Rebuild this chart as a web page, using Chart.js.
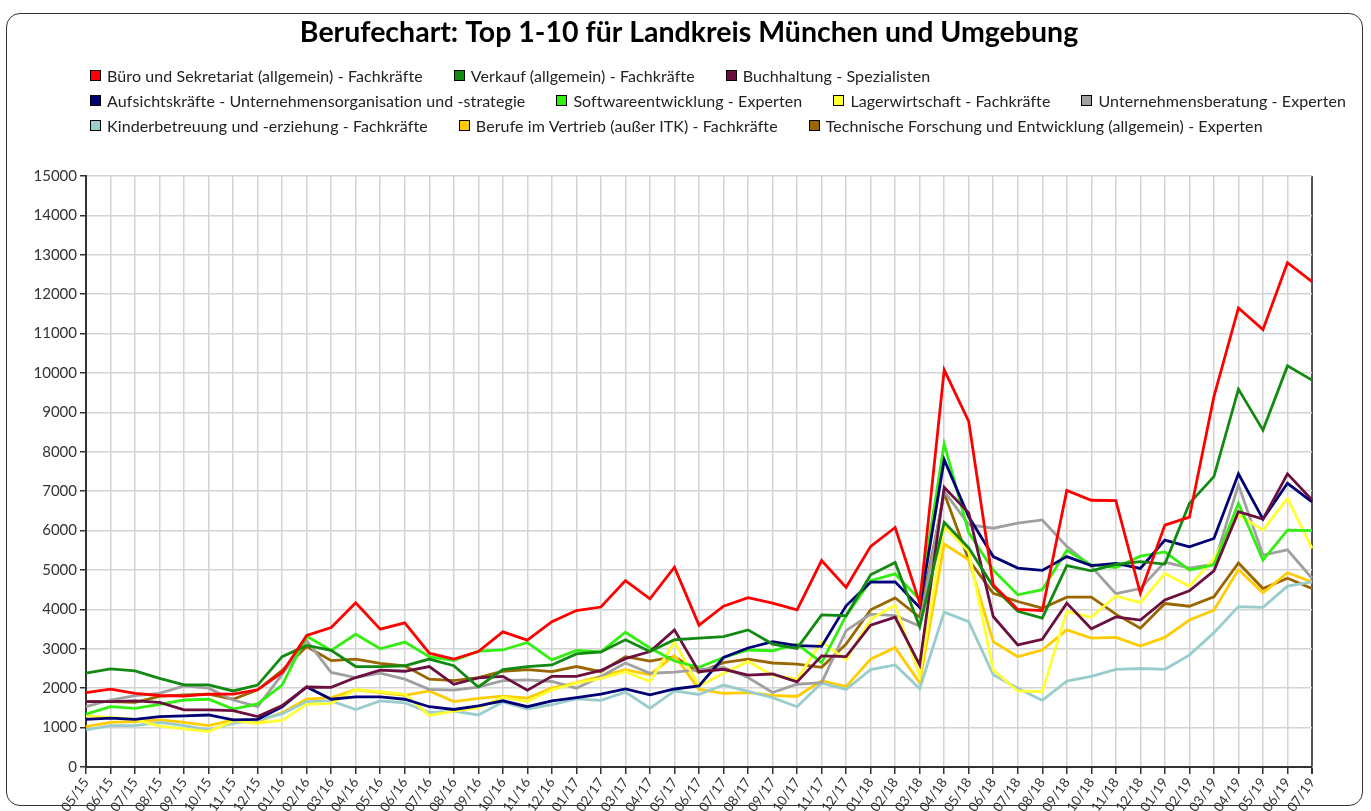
<!DOCTYPE html>
<html><head><meta charset="utf-8">
<script src="https://cdn.jsdelivr.net/npm/chart.js@4"></script>
<style>
html,body{margin:0;padding:0;background:#fff;overflow:hidden;}
#wrap{position:absolute;left:0;top:0;width:1371px;height:811px;}
#frame{position:absolute;left:6px;top:13px;width:1357px;height:793px;border:1.5px solid #333;border-radius:14px;box-sizing:border-box;pointer-events:none;}
#legend{position:absolute;left:90px;top:63px;width:1280px;font:16px Lato, sans-serif;letter-spacing:0.1px;color:#222;display:flex;flex-wrap:wrap;column-gap:31px;}
.li{display:flex;align-items:center;height:25px;white-space:nowrap;}
.bx{width:9px;height:9px;border:1px solid #000;margin-right:6px;flex:none;}
</style></head>
<body>
<div id="wrap"><canvas id="c"></canvas></div>
<div id="frame"></div>
<div id="legend"></div>
<script>
const TITLE = 'Berufechart: Top 1-10 für Landkreis München und Umgebung';
const months = ['05/15','06/15','07/15','08/15','09/15','10/15','11/15','12/15',
 '01/16','02/16','03/16','04/16','05/16','06/16','07/16','08/16','09/16','10/16','11/16','12/16',
 '01/17','02/17','03/17','04/17','05/17','06/17','07/17','08/17','09/17','10/17','11/17','12/17',
 '01/18','02/18','03/18','04/18','05/18','06/18','07/18','08/18','09/18','10/18','11/18','12/18',
 '01/19','02/19','03/19','04/19','05/19','06/19','07/19'];
const seriesNames = [
 'Büro und Sekretariat (allgemein) - Fachkräfte',
 'Verkauf (allgemein) - Fachkräfte',
 'Buchhaltung - Spezialisten',
 'Aufsichtskräfte - Unternehmensorganisation und -strategie',
 'Softwareentwicklung - Experten',
 'Lagerwirtschaft - Fachkräfte',
 'Unternehmensberatung - Experten',
 'Kinderbetreuung und -erziehung - Fachkräfte',
 'Berufe im Vertrieb (außer ITK) - Fachkräfte',
 'Technische Forschung und Entwicklung (allgemein) - Experten'
];
const bueroSekretariat = [1890,1975,1870,1815,1800,1850,1850,1960,2400,3340,3540,4170,3500,3660,2890,2740,2930,3430,3220,3690,3970,4060,4730,4270,5070,3600,4080,4300,4160,3990,5240,4560,5600,6080,4160,10080,8770,4620,4000,3970,7020,6770,6760,4410,6140,6340,9400,11650,11100,12800,12320];
const verkauf = [2380,2490,2440,2250,2085,2085,1930,2080,2800,3085,2960,2550,2550,2570,2740,2570,2030,2470,2550,2590,2870,2920,3230,2930,3230,3270,3310,3480,3120,3010,3860,3840,4880,5190,3560,6210,5560,4580,3950,3780,5110,4980,5140,5210,5150,6690,7370,9590,8550,10180,9820];
const buchhaltung = [1660,1660,1680,1640,1450,1450,1430,1280,1560,2030,2020,2270,2460,2430,2550,2100,2260,2300,1950,2300,2300,2450,2750,2930,3480,2420,2480,2330,2360,2160,2820,2800,3600,3800,2590,7100,6450,3820,3100,3240,4160,3510,3810,3730,4240,4470,4980,6480,6290,7440,6780];
const aufsicht = [1210,1240,1210,1280,1300,1320,1195,1210,1530,2030,1720,1780,1780,1720,1530,1460,1550,1680,1530,1680,1760,1850,1980,1830,1980,2060,2780,3020,3180,3080,3060,4090,4690,4700,4050,7800,6350,5340,5050,4990,5340,5110,5170,5040,5760,5590,5800,7440,6290,7200,6730];
const software = [1340,1530,1490,1590,1700,1720,1470,1600,2080,3320,2960,3370,3000,3170,2800,2700,2940,2970,3160,2720,2960,2920,3420,3020,2690,2530,2780,2970,2950,3120,2650,3840,4730,4900,4250,8200,5950,5000,4370,4500,5500,5130,5060,5350,5460,5000,5130,6690,5250,6010,6000];
const lager = [1300,1260,1210,1040,965,900,1170,1110,1180,1590,1615,1960,1910,1850,1310,1420,1500,1770,1660,1960,2130,2250,2420,2170,3170,2050,2380,2680,2330,2230,3180,2720,3750,4110,2300,6110,5470,2460,1930,1910,3950,3800,4340,4170,4910,4590,5290,6400,6010,6820,5550];
const beratung = [1530,1700,1810,1870,2060,2000,1700,1530,2350,3210,2400,2270,2380,2230,1970,1950,2030,2190,2210,2170,2000,2300,2640,2380,2410,2470,2530,2270,1890,2100,2140,3460,3880,3840,3580,7000,6150,6060,6190,6270,5600,5090,4400,4530,5200,5050,5150,7160,5380,5510,4790];
const kinder = [940,1050,1050,1130,1050,940,1110,1195,1350,1660,1680,1460,1680,1630,1380,1420,1320,1650,1470,1580,1730,1690,1900,1490,1930,1840,2080,1920,1760,1530,2130,1970,2470,2590,1990,3930,3690,2340,2000,1690,2180,2300,2480,2500,2480,2840,3410,4070,4050,4590,4700];
const vertrieb = [1025,1135,1150,1195,1135,1050,1195,1150,1380,1720,1760,1960,1890,1820,1930,1660,1740,1800,1750,2000,2140,2300,2470,2340,2830,1970,1870,1890,1820,1790,2190,2040,2740,3030,2140,5660,5260,3180,2800,2970,3480,3270,3290,3070,3290,3730,3980,5010,4420,4930,4700];
const technik = [1660,1660,1640,1790,1830,1850,1720,1960,2450,3060,2700,2740,2630,2570,2230,2190,2270,2430,2470,2420,2550,2420,2800,2690,2800,2400,2650,2740,2640,2610,2530,3120,3990,4290,3800,6950,5260,4410,4200,4030,4310,4310,3880,3520,4150,4080,4320,5180,4530,4790,4530];
const yTicks = [0,1000,2000,3000,4000,5000,6000,7000,8000,9000,10000,11000,12000,13000,14000,15000];

const seriesValues = [bueroSekretariat, verkauf, buchhaltung, aufsicht, software, lager, beratung, kinder, vertrieb, technik];
const seriesColors = ['#ff0000','#128a12','#6b0f3f','#000077','#33ee11','#ffff33','#a0a0a0','#99cccc','#ffcc00','#996600'];

const datasets = seriesNames.map((n,i)=>({
  label: n, data: seriesValues[i], borderColor: seriesColors[i], backgroundColor: seriesColors[i],
  borderWidth: 2.8, pointRadius: 0, tension: 0, fill: false, yAxisID: 'y'
}));

const lastIdx = months.length - 1;
const chart = new Chart(document.getElementById('c'), {
  type: 'line',
  data: { labels: months, datasets },
  options: {
    responsive: true, maintainAspectRatio: false, animation: false,
    layout: { padding: { left: 7, right: 0, top: 0, bottom: 0 } },
    plugins: {
      legend: { display: false },
      tooltip: { enabled: false },
      title: { display: true, text: TITLE, color: '#000',
        font: { family: 'Lato', size: 28.5, weight: 'bold', lineHeight: 1.2 },
        padding: { top: 15.9, bottom: 125.9 } }
    },
    scales: {
      x: {
        grid: { color: c => c.index === lastIdx ? '#555' : '#d4d4d4',
                lineWidth: c => c.index === lastIdx ? 2 : 1.5,
                tickColor: '#333', tickLength: 7 },
        border: { color: '#333', width: 2 },
        ticks: { autoSkip: false, minRotation: 55, maxRotation: 55, color: '#333',
                 font: { family: 'Lato', size: 13.5 }, padding: 1 },
        afterFit: s => { s.height = 44; }
      },
      y: {
        min: 0, max: 15000,
        afterBuildTicks: s => { s.ticks = yTicks.map(v => ({ value: v })); },
        ticks: { color: '#333', font: { family: 'Lato', size: 15 }, padding: 3,
                 callback: v => String(v) },
        grid: { color: '#d4d4d4', lineWidth: 1.5, tickColor: '#333', tickLength: 6 },
        border: { color: '#333', width: 2 },
        afterFit: s => { s.width = 79; }
      },
      y2: {
        position: 'right', min: 0, max: 15000,
        ticks: { display: false },
        grid: { display: false },
        border: { display: false },
        afterFit: s => { s.width = 59; }
      }
    }
  }
});

const leg = document.getElementById('legend');
chart.data.datasets.forEach(ds => {
  const it = document.createElement('div'); it.className = 'li';
  const b = document.createElement('span'); b.className = 'bx'; b.style.background = ds.borderColor;
  const t = document.createElement('span'); t.textContent = ds.label;
  it.appendChild(b); it.appendChild(t); leg.appendChild(it);
});
</script>
</body></html>
